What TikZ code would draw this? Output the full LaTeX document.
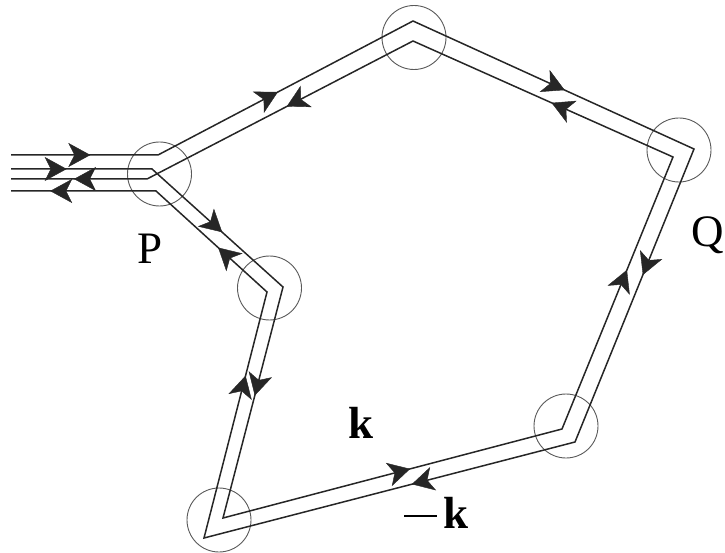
\documentclass[tikz,border=0pt]{standalone}
\usepackage{fontspec}
\setmainfont{Liberation Serif}
\usetikzlibrary{arrows.meta,decorations.markings}
\begin{document}
\begin{tikzpicture}[x=1pt,y=-1pt,
  wire/.style={line width=1.5pt, draw=black!85, line join=miter},
  ring/.style={circle, draw=black!65, line width=0.9pt, minimum size=64pt, inner sep=0pt},
  tipmark/.style={color=black!85, postaction={decorate}, decoration={markings, mark=at position #1 with {\arrow{Stealth[length=22pt,width=24pt,inset=6pt]}}}},
  lbl/.style={font=\fontsize{45}{50}\selectfont, inner sep=0pt, anchor=base west}
]
\useasboundingbox (0,0) rectangle (725,553);

% corners of the outer line
\coordinate (o0) at (11,155);
\coordinate (o1) at (158,155);
\coordinate (o2) at (413,21);
\coordinate (o3) at (694,149);
\coordinate (o4) at (575,442);
\coordinate (o5) at (204,538);
\coordinate (o6) at (267,292);
\coordinate (o7) at (156,191);
\coordinate (o8) at (11,191);
% corners of the inner line
\coordinate (i0) at (11,169);
\coordinate (i1) at (152,169);
\coordinate (i2) at (283,287);
\coordinate (i3) at (223,518);
\coordinate (i4) at (562,429);
\coordinate (i5) at (673,157);
\coordinate (i6) at (413,41);
\coordinate (i7) at (147,179);
\coordinate (i8) at (11,179);

% circles at the vertices
\node[ring] (cP) at (159.5,174) {};
\node[ring] (c2) at (414,37.5) {};
\node[ring] (cQ) at (679,150) {};
\node[ring] (c4) at (566,426) {};
\node[ring] (c5) at (219,520) {};
\node[ring] (c6) at (269.5,288) {};

% the two lines
\draw[wire] (o0) -- (o1) -- (o2) -- (o3) -- (o4) -- (o5) -- (o6) -- (o7) -- (o8);
\draw[wire] (i0) -- (i1) -- (i2) -- (i3) -- (i4) -- (i5) -- (i6) -- (i7) -- (i8);

% arrow heads
\path[tipmark=0.54] (o0) -- (o1);
\path[tipmark=0.47] (o1) -- (o2);
\path[tipmark=0.54] (o2) -- (o3);
\path[tipmark=0.43] (o3) -- (o4);
\path[tipmark=0.44] (o4) -- (o5);
\path[tipmark=0.66] (o5) -- (o6);
\path[tipmark=0.44] (o6) -- (o7);
\path[tipmark=0.73] (o7) -- (o8);
\path[tipmark=0.395] (i0) -- (i1);
\path[tipmark=0.536] (i1) -- (i2);
\path[tipmark=0.47] (i2) -- (i3);
\path[tipmark=0.552] (i3) -- (i4);
\path[tipmark=0.585] (i4) -- (i5);
\path[tipmark=0.467] (i5) -- (i6);
\path[tipmark=0.475] (i6) -- (i7);
\path[tipmark=0.537] (i7) -- (i8);

% labels
\node[lbl] (lP) at (137,263) {P};
\node[lbl] (lQ) at (691,247) {Q};
\node[lbl] (lk) at (348,438) {\textbf{k}};
\node[lbl] (lmk) at (404,528) {\rule[11.5pt]{33pt}{1.8pt}\hspace{6pt}\textbf{k}};
\end{tikzpicture}
\end{document}
